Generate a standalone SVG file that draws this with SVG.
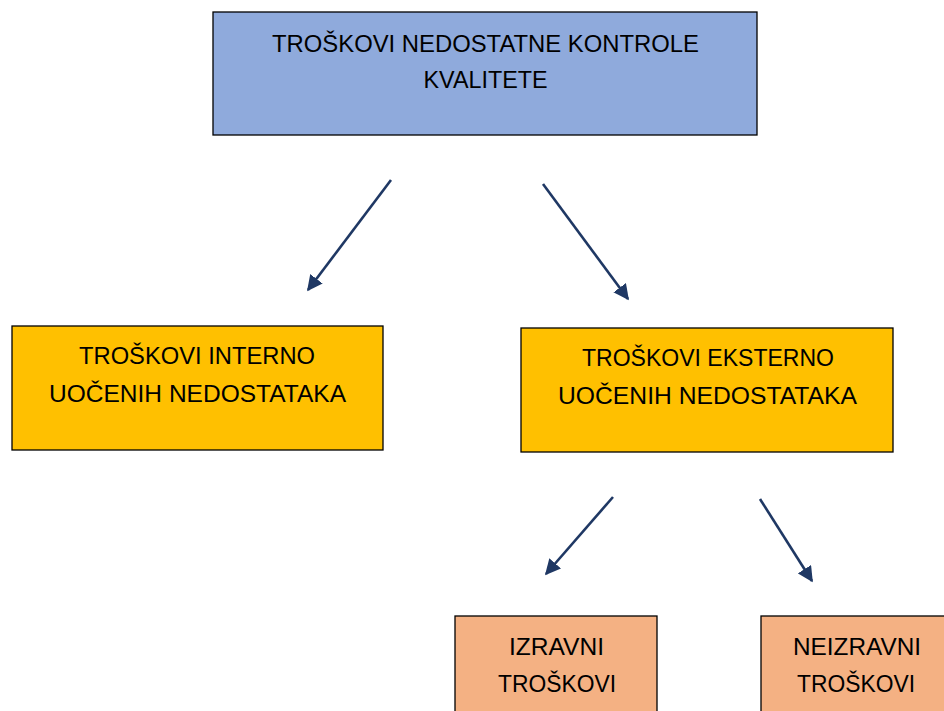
<svg xmlns="http://www.w3.org/2000/svg" width="944" height="711" viewBox="0 0 944 711">
<defs>
<style>
.box{stroke:#000;stroke-width:1.3}
.blue{fill:#8FAADC}
.gold{fill:#FFC000}
.salmon{fill:#F4B183}
text{font-family:"Liberation Sans",Arial,sans-serif;font-size:24px;fill:#000;text-anchor:middle}
.arrow{stroke:#1F3864;stroke-width:2.6;fill:none;marker-end:url(#ah)}
</style>
<marker id="ah" viewBox="0 0 10 10" refX="9" refY="5" markerWidth="6" markerHeight="6" markerUnits="strokeWidth" orient="auto">
<path d="M0,0 L10,5 L0,10 z" fill="#1F3864"/>
</marker>
</defs>
<rect width="944" height="711" fill="#fff"/>
<g id="top">
<rect class="box blue" x="213" y="12" width="544" height="123"/>
<text x="485.5" y="52" textLength="427" lengthAdjust="spacingAndGlyphs">TROŠKOVI NEDOSTATNE KONTROLE</text>
<text x="485.5" y="88" textLength="124" lengthAdjust="spacingAndGlyphs">KVALITETE</text>
</g>
<g id="interno">
<rect class="box gold" x="12" y="326" width="371" height="124"/>
<text x="197" y="364" textLength="236" lengthAdjust="spacingAndGlyphs">TROŠKOVI INTERNO</text>
<text x="197.5" y="402" textLength="297" lengthAdjust="spacingAndGlyphs">UOČENIH NEDOSTATAKA</text>
</g>
<g id="eksterno">
<rect class="box gold" x="521" y="328" width="372" height="124"/>
<text x="708" y="366" textLength="252" lengthAdjust="spacingAndGlyphs">TROŠKOVI EKSTERNO</text>
<text x="707.5" y="404" textLength="299" lengthAdjust="spacingAndGlyphs">UOČENIH NEDOSTATAKA</text>
</g>
<g id="izravni">
<rect class="box salmon" x="455" y="616" width="202" height="110"/>
<text x="556.5" y="655" textLength="95" lengthAdjust="spacingAndGlyphs">IZRAVNI</text>
<text x="557" y="692" textLength="118" lengthAdjust="spacingAndGlyphs">TROŠKOVI</text>
</g>
<g id="neizravni">
<rect class="box salmon" x="761" y="616" width="200" height="110"/>
<text x="857" y="655" textLength="128" lengthAdjust="spacingAndGlyphs">NEIZRAVNI</text>
<text x="856" y="692" textLength="118" lengthAdjust="spacingAndGlyphs">TROŠKOVI</text>
</g>
<g id="connectors">
<line class="arrow" x1="391" y1="180" x2="308" y2="290"/>
<line class="arrow" x1="543" y1="184" x2="628" y2="299"/>
<line class="arrow" x1="613" y1="497" x2="546" y2="574"/>
<line class="arrow" x1="760" y1="499" x2="812" y2="581"/>
</g>
</svg>
